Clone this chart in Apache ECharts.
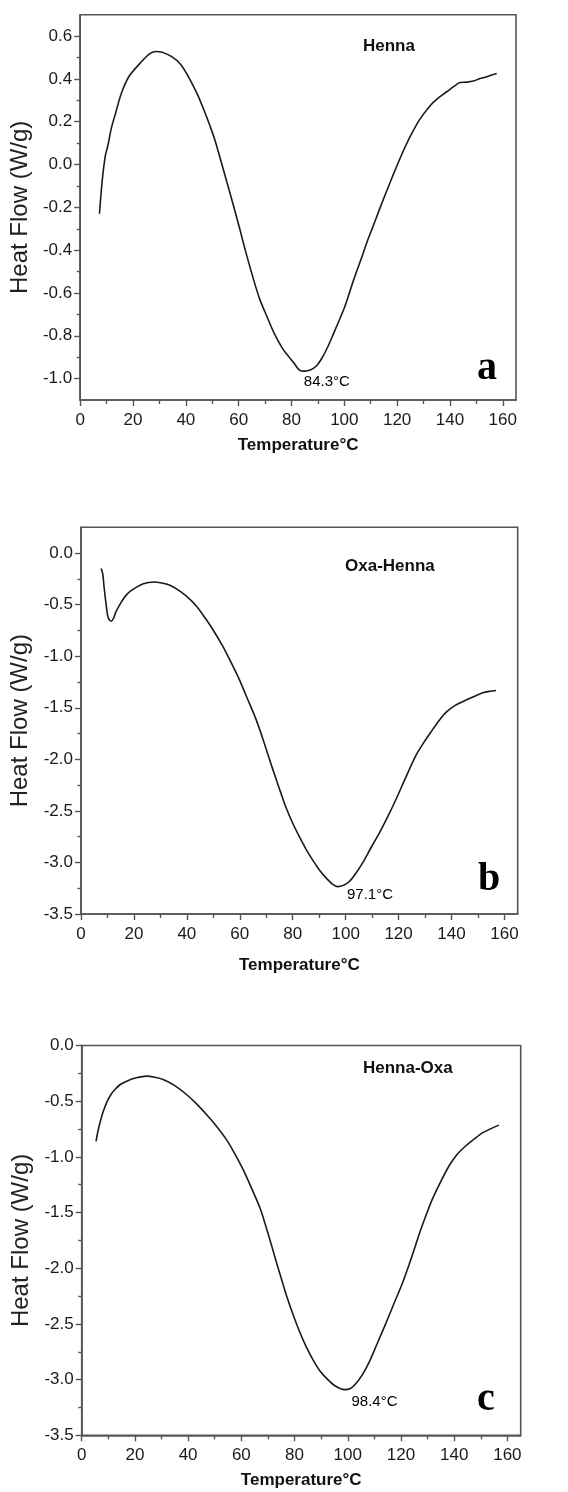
<!DOCTYPE html>
<html>
<head>
<meta charset="utf-8">
<script src="https://cdn.jsdelivr.net/npm/echarts@6/dist/echarts.min.js"></script>
<style>
html,body{margin:0;padding:0;background:#fff;}
#chart{width:568px;height:1492px;}
</style>
</head>
<body>
<div id="chart"></div>
<script>
// ---- data (temperature °C, heat flow W/g) ----
const hennaData = [[7.3,-0.23],[8.3,-0.08],[9.5,0.04],[10.5,0.09],[11.8,0.17],[13.4,0.24],[15.5,0.33],[18.4,0.41],[22.8,0.475],[26,0.515],[28.5,0.528],[31,0.525],[34.5,0.505],[37.9,0.47],[41,0.41],[44.3,0.33],[47,0.25],[49.3,0.175],[51,0.115],[53.1,0.025],[55.5,-0.08],[58.1,-0.195],[60.5,-0.305],[62.5,-0.4],[65.7,-0.54],[68,-0.63],[70.7,-0.71],[73.5,-0.79],[76.4,-0.855],[78.8,-0.895],[80.8,-0.925],[83,-0.96],[85,-0.965],[87.1,-0.96],[89.5,-0.94],[91.5,-0.905],[93.8,-0.85],[95.9,-0.79],[98,-0.73],[100.3,-0.66],[103.5,-0.54],[106.7,-0.43],[108.5,-0.365],[111,-0.285],[113.6,-0.2],[116,-0.125],[118.6,-0.045],[121.5,0.04],[124.9,0.13],[128.5,0.21],[132.5,0.275],[135.5,0.31],[138.8,0.34],[141.5,0.365],[143.8,0.383],[146.5,0.385],[148.9,0.39],[151,0.4],[152.6,0.405],[155,0.415],[157.7,0.425]];
const oxaHennaData = [[7.6,-0.15],[8.2,-0.2],[8.8,-0.35],[9.5,-0.5],[10.1,-0.61],[10.8,-0.65],[11.5,-0.66],[12.3,-0.63],[13.2,-0.57],[15.1,-0.48],[17,-0.41],[18.9,-0.365],[21,-0.33],[23.3,-0.3],[25.5,-0.285],[27.7,-0.28],[30.5,-0.29],[33.4,-0.31],[36.5,-0.355],[39.7,-0.415],[43.5,-0.51],[47.2,-0.64],[50.5,-0.77],[53.5,-0.9],[56.7,-1.06],[59.8,-1.225],[63,-1.42],[66.1,-1.61],[68.7,-1.8],[71.2,-2.0],[73.7,-2.19],[75.7,-2.34],[77.5,-2.47],[80,-2.62],[82.5,-2.75],[85,-2.87],[87.5,-2.975],[90,-3.07],[92.6,-3.15],[95,-3.21],[97,-3.235],[99.3,-3.22],[101.4,-3.185],[104,-3.1],[106.4,-3.005],[109.5,-2.86],[112.7,-2.715],[116,-2.55],[119,-2.39],[122.8,-2.17],[126.6,-1.96],[129.7,-1.83],[132.9,-1.71],[135.4,-1.62],[137.9,-1.545],[141.5,-1.475],[145.5,-1.425],[148.6,-1.39],[151.8,-1.355],[154.5,-1.34],[156.8,-1.332]];
const hennaOxaData = [[5.4,-0.86],[6.1,-0.77],[6.9,-0.69],[8,-0.6],[9.4,-0.51],[11,-0.44],[12.5,-0.395],[14.5,-0.35],[16.9,-0.32],[20.5,-0.29],[24.4,-0.275],[27.5,-0.285],[30.6,-0.305],[35,-0.36],[39.4,-0.44],[43,-0.52],[46.9,-0.62],[50.5,-0.72],[54.4,-0.845],[57.5,-0.97],[60.6,-1.11],[64,-1.29],[67.2,-1.47],[69.3,-1.63],[71.3,-1.79],[73.1,-1.94],[75,-2.09],[76.9,-2.24],[79.5,-2.42],[81.9,-2.57],[84.5,-2.71],[86.9,-2.82],[89.5,-2.92],[92.5,-3.0],[95.5,-3.06],[98.7,-3.09],[101,-3.08],[103.1,-3.035],[105.5,-2.955],[108.1,-2.84],[111,-2.68],[114.4,-2.49],[117.5,-2.31],[120.6,-2.13],[123,-1.97],[125,-1.83],[126.9,-1.69],[129.5,-1.52],[131.8,-1.38],[135,-1.22],[138.1,-1.08],[141,-0.98],[144.4,-0.9],[147.5,-0.84],[150.6,-0.785],[153.5,-0.75],[156.8,-0.715]];

// sample names, panel letters, peak annotations
const sampleNames = ['Henna', 'Oxa-Henna', 'Henna-Oxa'];
const panelLetters = ['a', 'b', 'c'];
const peakTemps = [84.3, 97.1, 98.4];
const peakValues = [-0.965, -3.235, -3.09];
const peakLabels = ['84.3°C', '97.1°C', '98.4°C'];

// axis ticks
const xMajorTicks = [0, 20, 40, 60, 80, 100, 120, 140, 160];
const xMinorTicks = [10, 30, 50, 70, 90, 110, 130, 150];
const yMajorTicksA = [-1.0, -0.8, -0.6, -0.4, -0.2, 0.0, 0.2, 0.4, 0.6];
const yMinorTicksA = [-0.9, -0.7, -0.5, -0.3, -0.1, 0.1, 0.3, 0.5];
const yMajorTicksBC = [-3.5, -3.0, -2.5, -2.0, -1.5, -1.0, -0.5, 0.0];
const yMinorTicksBC = [-3.25, -2.75, -2.25, -1.75, -1.25, -0.75, -0.25];
const yRanges = [[-1.1, 0.7], [-3.5, 0.25], [-3.5, 0.0]];
const xRange = [0, 165];
const xTitle = 'Temperature°C';
const yTitle = 'Heat Flow (W/g)';

// ---- layout ----
const SANS = '"Liberation Sans", Arial, sans-serif';
const SERIF = '"Liberation Serif", "Times New Roman", serif';
const AX = '#555555';
const grids = [
  {left: 79.7, top: 14.7, width: 436.3, height: 385.3},
  {left: 81, top: 527.3, width: 436.7, height: 386.7},
  {left: 81.7, top: 1045.5, width: 439, height: 389.8}
];
const xNameGaps = [37, 43, 37];
const labelOffsets = [[1, 11], [9, 8], [8, 12]];
const nameBoxes = [[363, 46.7], [345, 567.3], [363, 1069]];
const letterPos = [[477, 369], [478, 880], [477, 1400]];
const datasets = [hennaData, oxaHennaData, hennaOxaData];
const yMaj = [yMajorTicksA, yMajorTicksBC, yMajorTicksBC];
const yMin = [yMinorTicksA, yMinorTicksBC, yMinorTicksBC];

const option = {
  animation: false,
  backgroundColor: '#fff',
  grid: [], xAxis: [], yAxis: [], series: [], graphic: []
};

for (let i = 0; i < 3; i++) {
  const g = grids[i];
  option.grid.push(Object.assign({show: true, borderColor: AX, borderWidth: 1.6, backgroundColor: 'transparent'}, g));
  // major x axis
  option.xAxis.push({
    type: 'value', gridIndex: i, position: 'bottom', min: xRange[0], max: xRange[1],
    name: xTitle, nameLocation: 'middle', nameGap: xNameGaps[i],
    nameTextStyle: {fontFamily: SANS, fontSize: 17, fontWeight: 'bold', color: '#111'},
    axisLine: {show: true, onZero: false, lineStyle: {color: AX, width: 1.6}},
    axisTick: {show: true, inside: false, length: 6, customValues: xMajorTicks, lineStyle: {color: AX, width: 1.4}},
    axisLabel: {show: true, customValues: xMajorTicks, margin: 12, fontFamily: SANS, fontSize: 17, color: '#1a1a1a', formatter: v => String(v)},
    splitLine: {show: false}
  });
  // minor x ticks
  option.xAxis.push({
    type: 'value', gridIndex: i, position: 'bottom', min: xRange[0], max: xRange[1],
    axisLine: {show: false, onZero: false},
    axisTick: {show: true, inside: false, length: 4, customValues: xMinorTicks, lineStyle: {color: AX, width: 1.4}},
    axisLabel: {show: false}, splitLine: {show: false}
  });
  // major y axis
  option.yAxis.push({
    type: 'value', gridIndex: i, position: 'left', min: yRanges[i][0], max: yRanges[i][1],
    name: yTitle, nameLocation: 'middle', nameGap: 44,
    nameTextStyle: {fontFamily: SANS, fontSize: 24, color: '#222'},
    axisLine: {show: true, onZero: false, lineStyle: {color: AX, width: 1.6}},
    axisTick: {show: true, inside: false, length: 6, customValues: yMaj[i], lineStyle: {color: AX, width: 1.4}},
    axisLabel: {show: true, customValues: yMaj[i], margin: 8, fontFamily: SANS, fontSize: 17, color: '#1a1a1a', formatter: v => Number(v).toFixed(1)},
    splitLine: {show: false}
  });
  // minor y ticks
  option.yAxis.push({
    type: 'value', gridIndex: i, position: 'left', min: yRanges[i][0], max: yRanges[i][1],
    axisLine: {show: false, onZero: false},
    axisTick: {show: true, inside: false, length: 3.5, customValues: yMin[i], lineStyle: {color: AX, width: 1.4}},
    axisLabel: {show: false}, splitLine: {show: false}
  });
  option.series.push({
    type: 'line', name: sampleNames[i], xAxisIndex: 2 * i, yAxisIndex: 2 * i,
    data: datasets[i], showSymbol: false, symbol: 'none', smooth: 0.3,
    lineStyle: {color: '#1a1a1a', width: 1.6},
    markPoint: {
      symbol: 'circle', symbolSize: 0, silent: true,
      data: [{coord: [peakTemps[i], peakValues[i]], value: peakLabels[i]}],
      label: {show: true, position: 'inside', offset: labelOffsets[i], align: 'left', verticalAlign: 'middle',
        formatter: peakLabels[i], fontFamily: SANS, fontSize: 15, color: '#000'}
    }
  });
  option.graphic.push({
    type: 'text', left: nameBoxes[i][0], top: nameBoxes[i][1] - 9,
    style: {text: sampleNames[i], fontFamily: SANS, fontSize: 17, fontWeight: 'bold', fill: '#111'}
  });
  option.graphic.push({
    type: 'text', x: letterPos[i][0], y: letterPos[i][1],
    style: {text: panelLetters[i], fontFamily: SERIF, fontSize: 40, fontWeight: 'bold', fill: '#000', verticalAlign: 'middle', align: 'left'}
  });
}

const chart = echarts.init(document.getElementById('chart'), null, {renderer: 'canvas'});
chart.setOption(option);
</script>
</body>
</html>
